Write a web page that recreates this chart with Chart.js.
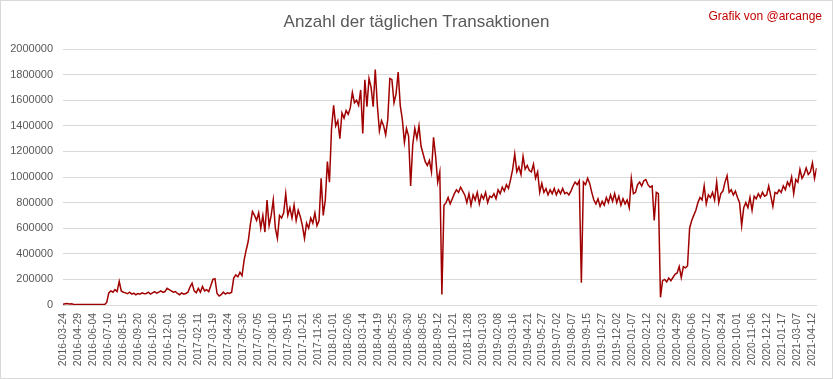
<!DOCTYPE html>
<html><head><meta charset="utf-8">
<script src="https://cdn.jsdelivr.net/npm/chart.js@4.4.0/dist/chart.umd.min.js"></script>
<style>html,body{margin:0;padding:0;background:#fff}#wrap{width:833px;height:379px;position:relative}</style>
</head><body><div id="wrap"><canvas id="c" width="833" height="379"></canvas></div>
<script>
const chartTitle = 'Anzahl der täglichen Transaktionen';
const creditText = 'Grafik von @arcange';

// category labels shown every 36 data days
const tickLabels = [
 '2016-03-24','2016-04-29','2016-06-04','2016-07-10','2016-08-15','2016-09-20','2016-10-26','2016-12-01',
 '2017-01-06','2017-02-11','2017-03-19','2017-04-24','2017-05-30','2017-07-05','2017-08-10','2017-09-15','2017-10-21','2017-11-26',
 '2018-01-01','2018-02-06','2018-03-14','2018-04-19','2018-05-25','2018-06-30','2018-08-05','2018-09-12','2018-10-21','2018-11-28',
 '2019-01-03','2019-02-08','2019-03-16','2019-04-21','2019-05-27','2019-07-02','2019-08-07','2019-09-15','2019-10-27','2019-12-02',
 '2020-01-07','2020-02-12','2020-03-22','2020-04-29','2020-06-06','2020-07-12','2020-08-24','2020-10-01','2020-11-06','2020-12-12',
 '2021-01-17','2021-03-07','2021-04-12'
];
const TICK_EVERY = 36;   // data days between labels
const SAMPLE_EVERY = 5;  // data days between the sampled values below
const LAST_DAY = 1810;

const transactionsK = [
 5,10,12,8,10,6, 3,3,3,3,3,3,3,3,3,3,3,3,3,3,3,
 20,95,110,100,120,105,185,110,100,
 95,88,100,85,92,80,90,85,95,88,
 90,100,85,95,105,92,100,110,98,105,
 130,120,110,100,105,90,80,95,85,90,
 100,140,170,110,95,130,100,145,110,120,
 105,150,200,205,90,70,80,100,85,
 95,90,100,210,235,220,255,230,350,430,
 500,630,730,700,660,720,600,700,570,820,
 620,700,820,600,520,700,680,720,870,700,
 760,680,780,660,740,690,620,520,640,600,
 680,640,720,620,660,990,700,820,1120,
 960,1380,1560,1400,1440,1300,1500,1460,1520,1490,
 1540,1660,1580,1600,1560,1680,1340,1760,1550,1770,
 1700,1550,1840,1560,1360,1440,1400,1330,1450,1770,
 1760,1580,1650,1820,1560,1450,1270,1380,1320,930,
 1250,1380,1300,1400,1240,1180,1120,1090,1130,
 1040,1310,1160,960,1040,83,780,800,840,790,
 830,870,900,880,920,890,860,800,870,780,
 860,820,880,790,860,830,880,800,850,840,
 870,830,900,870,920,890,940,910,980,1060,
 1180,1040,1080,1020,1160,1060,1090,1050,1040,
 1100,990,1040,880,950,880,910,860,900,870,
 910,860,900,870,910,870,880,860,890,930,
 960,940,970,174,960,940,990,950,880,820,
 790,830,770,810,780,840,800,860,810,870,
 800,850,780,830,790,820,760,990,870,
 880,940,960,930,970,980,940,920,930,660,
 880,870,60,190,200,180,210,190,215,240,
 250,300,215,300,290,305,600,660,700,740,
 800,840,820,930,790,860,840,880,820,960,
 800,870,890,960,1010,880,900,860,890,840,
 800,620,760,800,760,840,740,850,830,
 870,840,880,850,860,930,850,770,880,
 870,900,880,930,900,960,930,1000,870,980,
 960,1060,990,1020,1070,1020,1040,1110,990,1070
];

const points = transactionsK.map((v, m) => ({ x: m * SAMPLE_EVERY, y: v * 1000 }));

const deco = {
  id: 'deco',
  afterDraw(chart) {
    const ctx = chart.ctx;
    ctx.save();
    ctx.fillStyle = '#595959';
    ctx.font = '17px "Liberation Sans", Arial, sans-serif';
    ctx.textAlign = 'center';
    ctx.textBaseline = 'middle';
    ctx.fillText(chartTitle, 416.5, 22);
    ctx.fillStyle = '#c00000';
    ctx.font = '12px "Liberation Sans", Arial, sans-serif';
    ctx.textAlign = 'right';
    ctx.fillText(creditText, 822, 17);
    ctx.strokeStyle = '#d9d9d9';
    ctx.lineWidth = 1;
    ctx.strokeRect(0.5, 0.5, 832, 378);
    ctx.restore();
  }
};

new Chart(document.getElementById('c'), {
  type: 'line',
  data: { datasets: [{ data: points, borderColor: '#a00000', borderWidth: 1.5, pointRadius: 0, tension: 0, fill: false }] },
  options: {
    responsive: false, animation: false, devicePixelRatio: 1,
    layout: { padding: { top: 49, right: 16, left: 0, bottom: 0 } },
    plugins: { legend: { display: false }, tooltip: { enabled: false }, title: { display: false } },
    scales: {
      x: {
        type: 'linear', min: 0, max: LAST_DAY,
        afterBuildTicks: s => { s.ticks = tickLabels.map((_, j) => ({ value: j * TICK_EVERY })); },
        afterFit: s => { s.height = 74; },
        ticks: {
          autoSkip: false, maxRotation: 90, minRotation: 90, padding: 8,
          callback: v => tickLabels[Math.round(v / TICK_EVERY)] ?? '',
          font: { family: '"Liberation Sans", Arial, sans-serif', size: 10.4 }, color: '#595959'
        },
        grid: { display: false, drawTicks: false },
        border: { display: true, color: '#d9d9d9' }
      },
      y: {
        min: 0, max: 2000000,
        afterFit: s => { s.width = 63; },
        ticks: {
          stepSize: 200000, padding: 10,
          callback: v => String(v),
          font: { family: '"Liberation Sans", Arial, sans-serif', size: 11 }, color: '#595959'
        },
        grid: { color: '#d9d9d9', drawTicks: false },
        border: { display: false }
      }
    }
  },
  plugins: [deco]
});
</script>
</body></html>
